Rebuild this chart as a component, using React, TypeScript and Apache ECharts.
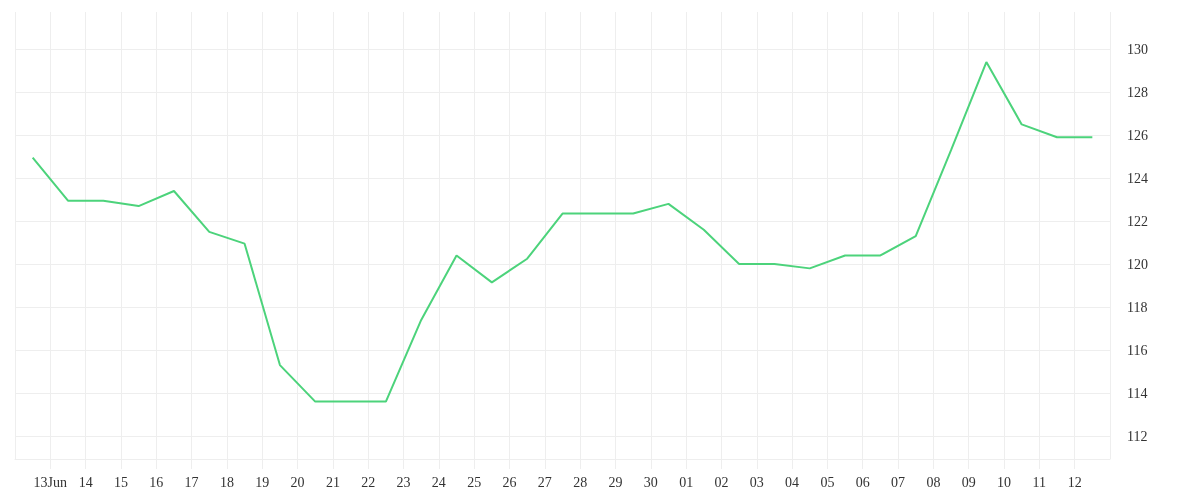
import { useEffect, useRef } from 'react';
import * as echarts from 'echarts';

// day labels at the day boundaries (13 Jun .. 12 Jul)
const dayLabels = [
  '13Jun', '14', '15', '16', '17', '18', '19', '20', '21', '22', '23', '24', '25', '26', '27',
  '28', '29', '30', '01', '02', '03', '04', '05', '06', '07', '08', '09', '10', '11', '12',
];

// one value per day, drawn in the middle of each day slot
const prices = [
  124.95, 122.95, 122.95, 122.7, 123.4, 121.5, 120.95, 115.3, 113.6, 113.6, 113.6,
  117.4, 120.4, 119.15, 120.25, 122.35, 122.35, 122.35, 122.8, 121.6, 120.0, 120.0,
  119.8, 120.4, 120.4, 121.3, 125.3, 129.4, 126.5, 125.9, 125.9,
];

const gridColor = '#eeeeee';
const lineColor = '#4cd37b';

const App: React.FC = () => {
  const divRef = useRef<HTMLDivElement | null>(null);

  useEffect(() => {
    if (!divRef.current) return;
    const chart = echarts.init(divRef.current, undefined, { renderer: 'svg' });

    const labelStyle = { color: '#333', fontFamily: 'serif', fontSize: 14 };

    chart.setOption({
      animation: false,
      grid: { left: 15, right: 90, top: 12, bottom: 41, containLabel: false, outerBoundsMode: 'none' },
      xAxis: {
        type: 'value',
        min: 0,
        max: prices.length,
        interval: 1,
        axisLine: { show: true, lineStyle: { color: gridColor } },
        axisTick: { show: true, length: 10, lineStyle: { color: gridColor } },
        splitLine: { show: true, lineStyle: { color: gridColor } },
        axisLabel: {
          ...labelStyle,
          margin: 16,
          showMinLabel: false,
          showMaxLabel: false,
          formatter: (v: number) => dayLabels[v - 1] ?? '',
        },
      },
      yAxis: {
        type: 'value',
        position: 'right',
        min: 110.93,
        max: 131.73,
        splitNumber: 10,
        axisLine: { show: false },
        axisTick: { show: false },
        splitLine: { show: true, showMaxLine: false, lineStyle: { color: gridColor } },
        axisLabel: { ...labelStyle, margin: 17, showMinLabel: false, showMaxLabel: false },
      },
      series: [
        {
          type: 'line',
          data: prices.map((p, i) => [i + 0.5, p]),
          symbol: 'none',
          lineStyle: { color: lineColor, width: 2 },
        },
      ],
    });

    return () => chart.dispose();
  }, []);

  return <div ref={divRef} style={{ position: 'fixed', left: 0, top: 0, width: 1200, height: 500 }} />;
};

export default App;
